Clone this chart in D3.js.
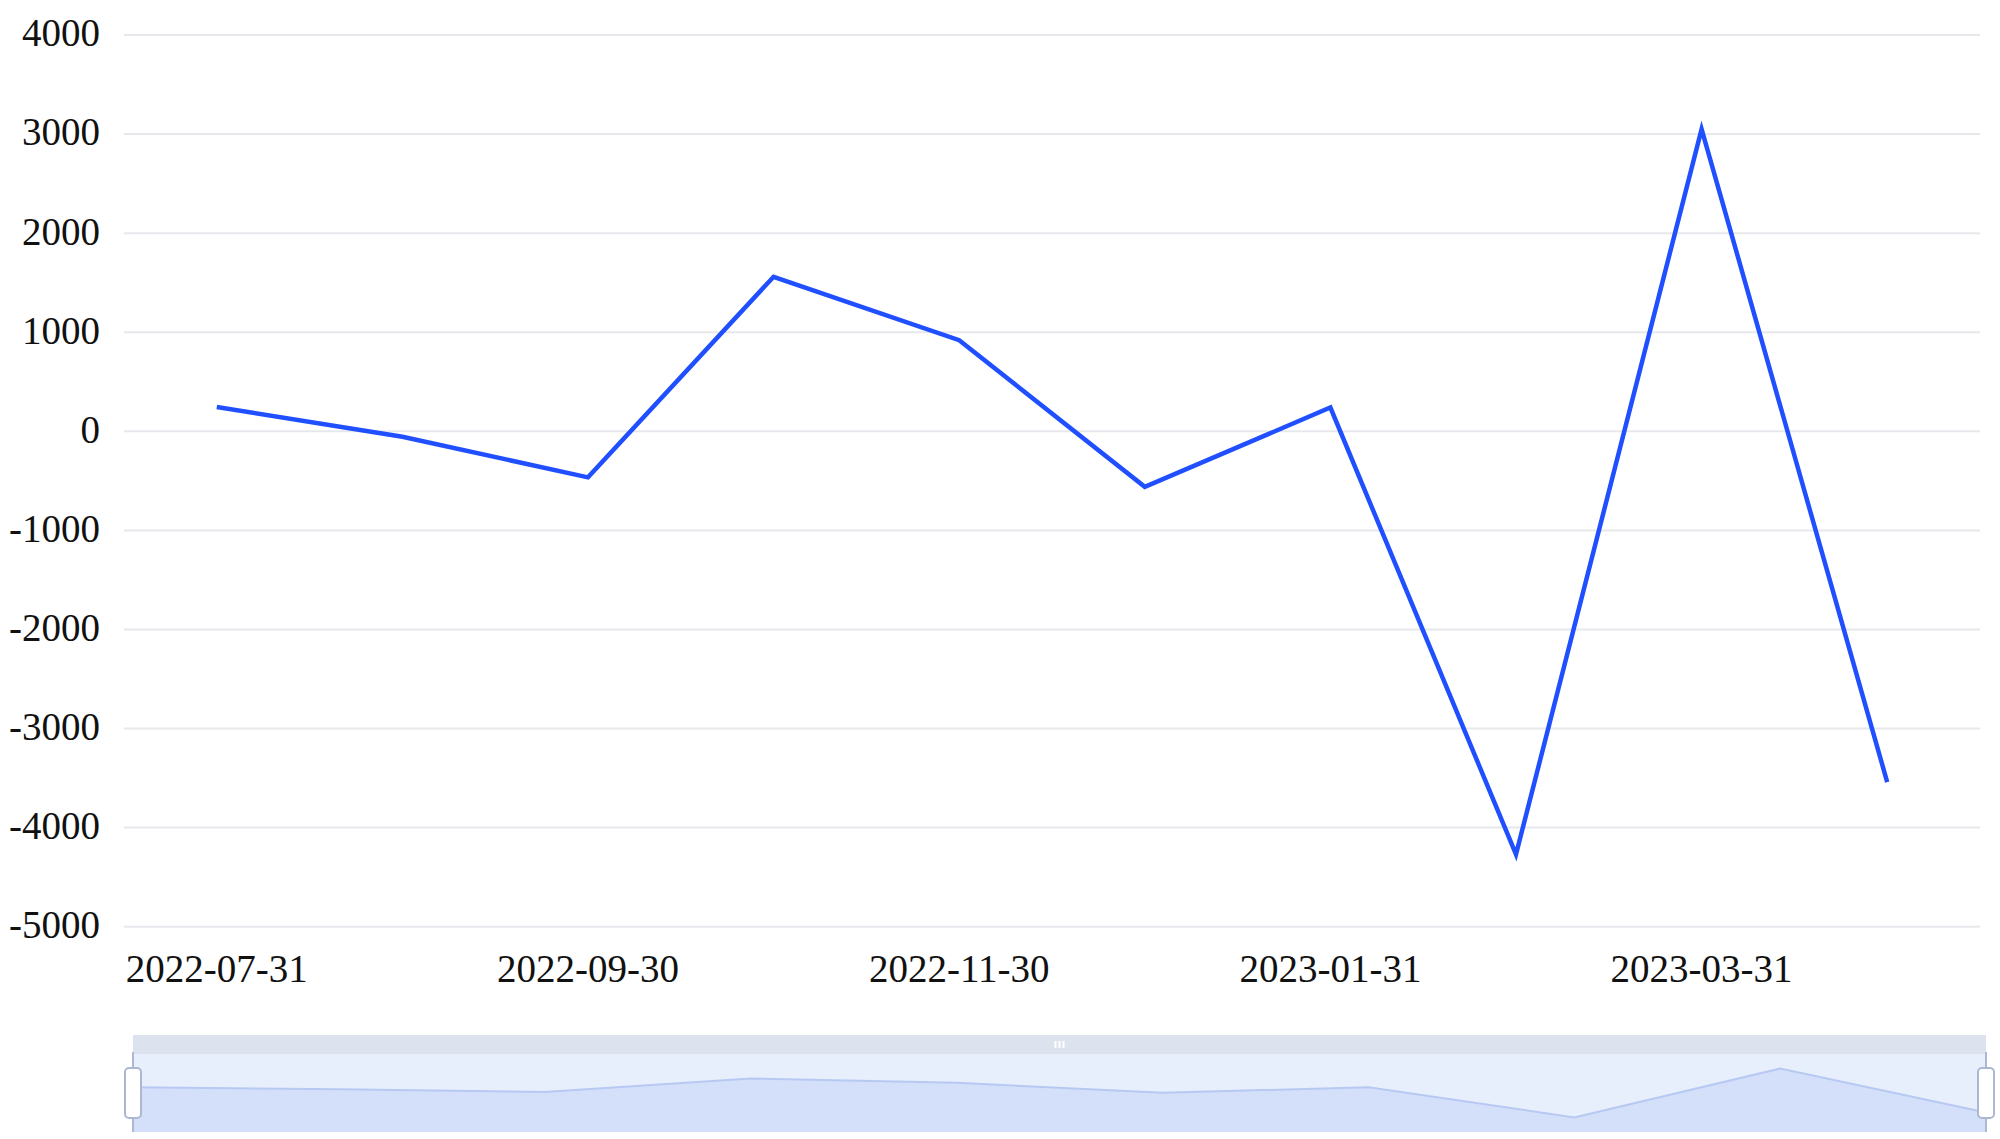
<!DOCTYPE html>
<html lang="en">
<head>
<meta charset="UTF-8">
<title>Line chart</title>
<script src="https://d3js.org/d3.v7.min.js"></script>
<style>
  html, body { margin: 0; padding: 0; background: #fff; }
  svg { display: block; }
  .lbl text { font-family: "Liberation Serif", "DejaVu Serif", serif; font-size: 39px; fill: #111; }
</style>
</head>
<body>
<div id="chart"></div>
<script>
const dates = ["2022-07-31", "2022-08-31", "2022-09-30", "2022-10-31", "2022-11-30",
               "2022-12-31", "2023-01-31", "2023-02-28", "2023-03-31", "2023-04-30"];
const values = [245, -55, -465, 1560, 920, -560, 240, -4270, 3050, -3540];
const yTicks = [-5000, -4000, -3000, -2000, -1000, 0, 1000, 2000, 3000, 4000];
const xTickLabels = ["2022-07-31", "2022-09-30", "2022-11-30", "2023-01-31", "2023-03-31"];

const W = 2000, H = 1139;
const plotLeft = 124, plotRight = 1980, plotTop = 35, plotBottom = 926.7;

const svg = d3.select("#chart").append("svg")
    .attr("width", W)
    .attr("height", H);

const x = d3.scaleBand().domain(dates).range([plotLeft, plotRight]);
const y = d3.scaleLinear().domain([-5000, 4000]).range([plotBottom, plotTop]);
const cx = d => x(d) + x.bandwidth() / 2;

// grid lines
svg.append("g")
  .selectAll("line")
  .data(yTicks)
  .join("line")
    .attr("x1", plotLeft).attr("x2", plotRight)
    .attr("y1", d => y(d)).attr("y2", d => y(d))
    .attr("stroke", "#e6e8ec")
    .attr("stroke-width", 2);

// y axis labels (plain hyphen for negatives, like the original)
const yAxis = svg.append("g")
    .attr("class", "lbl")
    .attr("transform", `translate(${plotLeft}, 0)`)
    .call(d3.axisLeft(y).tickValues(yTicks).tickSize(0).tickPadding(24).tickFormat(d => String(d)));
yAxis.select(".domain").remove();
yAxis.attr("font-size", null).attr("font-family", null);
yAxis.selectAll("text").attr("dy", "0.28em");

// x axis labels
const xAxis = svg.append("g")
    .attr("class", "lbl")
    .attr("transform", `translate(0, ${plotBottom})`)
    .call(d3.axisBottom(x).tickValues(xTickLabels).tickSize(0).tickPadding(28));
xAxis.select(".domain").remove();
xAxis.attr("font-size", null).attr("font-family", null);
xAxis.selectAll("text").attr("dy", "0.71em");

// main line
const line = d3.line()
    .x((d, i) => cx(dates[i]))
    .y(d => y(d));

svg.append("path")
    .datum(values)
    .attr("fill", "none")
    .attr("stroke", "#1f4fff")
    .attr("stroke-width", 4.5)
    .attr("stroke-linejoin", "miter")
    .attr("d", line);

// data zoom slider
const sLeft = 133, sRight = 1986, bandTop = 1035, bodyTop = 1054, bodyBottom = 1132;
const xs = d3.scalePoint().domain(dates).range([sLeft, sRight]);
const ext = d3.extent(values);
const off = (ext[1] - ext[0]) * 0.3;
const ys = d3.scaleLinear().domain([ext[0] - off, ext[1] + off]).range([bodyBottom, bodyTop]);

const slider = svg.append("g");

slider.append("rect")
    .attr("x", sLeft).attr("y", bandTop)
    .attr("width", sRight - sLeft).attr("height", bodyTop - bandTop)
    .attr("fill", "#dde3ee");

slider.append("rect")
    .attr("x", sLeft).attr("y", bodyTop)
    .attr("width", sRight - sLeft).attr("height", bodyBottom - bodyTop)
    .attr("fill", "#e7eefc");

slider.append("path")
    .datum(values)
    .attr("fill", "#d4e0fa")
    .attr("d", d3.area()
        .x((d, i) => xs(dates[i]))
        .y0(bodyBottom)
        .y1(d => ys(d)));

slider.append("path")
    .datum(values)
    .attr("fill", "none")
    .attr("stroke", "#b7c9f3")
    .attr("stroke-width", 2)
    .attr("d", d3.line()
        .x((d, i) => xs(dates[i]))
        .y(d => ys(d)));

// grip marks on the move band
const mid = (sLeft + sRight) / 2;
slider.append("g")
  .selectAll("rect")
  .data([-4, 0, 4])
  .join("rect")
    .attr("x", d => mid + d - 1).attr("y", bandTop + 6)
    .attr("width", 2).attr("height", 7)
    .attr("fill", "#ffffff");

// handles
const handles = slider.append("g")
  .selectAll("g")
  .data([sLeft, sRight])
  .join("g")
    .attr("transform", d => `translate(${d}, 0)`);

handles.append("line")
    .attr("y1", bodyTop - 2).attr("y2", bodyBottom)
    .attr("stroke", "#acb8d1")
    .attr("stroke-width", 2);

handles.append("rect")
    .attr("x", -8).attr("y", 1068)
    .attr("width", 16).attr("height", 50)
    .attr("rx", 4)
    .attr("fill", "#ffffff")
    .attr("stroke", "#acb8d1")
    .attr("stroke-width", 2);
</script>
</body>
</html>
